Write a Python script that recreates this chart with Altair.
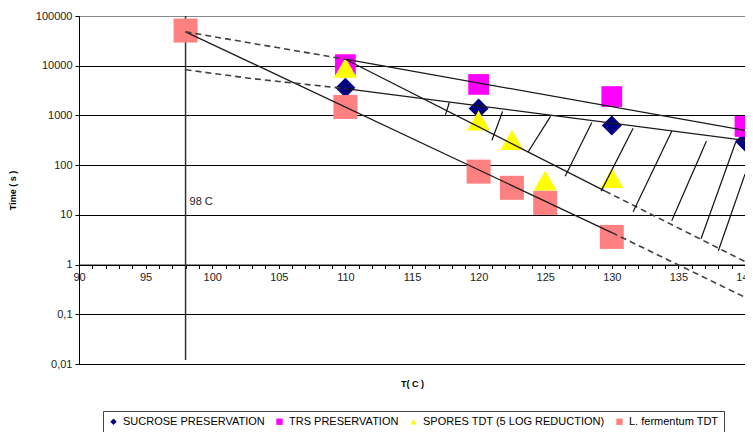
import altair as alt
import pandas as pd

# ---------------- data ----------------
series_names = ["SUCROSE PRESERVATION", "TRS PRESERVATION",
                "SPORES TDT (5 LOG REDUCTION)", "L. fermentum TDT"]
series_colors = ["#000080", "#FF00FF", "#FFFF00", "#FF8080"]
series_shapes = ["diamond", "square", "triangle-up", "square"]
series_sizes = [400, 430, 530, 576]

sucrose_T = [110, 120, 130, 140]
sucrose_t = [3600, 1380, 630, 300]
trs_T = [110, 120, 130, 140]
trs_t = [10500, 4200, 2400, 600]
spores_T = [110, 120, 122.5, 125, 130]
spores_t = [9100, 790, 320, 49, 55]
lferm_T = [98, 110, 120, 122.5, 125, 130]
lferm_t = [51000, 1480, 74, 35, 17.4, 3.6]

# fitted lines (segments)
line_ids = ["A1", "A2", "B1", "B2", "C1", "C2", "D1", "D2"]
line_styles = ["dashed", "solid", "dashed", "solid", "solid", "dashed", "solid", "dashed"]
line_T = [[98, 110], [110, 140], [98, 103, 110], [110, 140],
          [98, 130], [130, 140], [110, 129.5], [129.5, 140]]
line_t = [[48000, 13500], [13500, 500], [8300, 5500, 3470], [3470, 316],
          [48000, 4.4], [4.4, 0.22], [13500, 30], [30, 1.15]]

# hatch strokes between the lines
hatch_T1 = [117.5, 121.0, 123.7, 126.5, 129.2, 131.6, 134.5, 136.7, 138.0]
hatch_t1 = [1000, 316, 182, 60, 30, 11.5, 7.6, 3.3, 1.9]
hatch_T2 = [117.8, 121.8, 125.4, 128.5, 131.6, 134.5, 137.1, 139.3, 140.0]
hatch_t2 = [1820, 1200, 955, 724, 550, 479, 302, 288, 66]

# vertical reference line at 98 C
vline_T = [98]
vline_t_from = [0.012]
vline_t_to = [100000]

label_T = [98]
label_t = [18]
label_text = ["98 C"]

y_tick_values = [0.01, 0.1, 1, 10, 100, 1000, 10000, 100000]
x_tick_values = list(range(90, 141))

# ---------------- tables ----------------
pts = []
for name, T, t in [(series_names[0], sucrose_T, sucrose_t),
                   (series_names[1], trs_T, trs_t),
                   (series_names[2], spores_T, spores_t),
                   (series_names[3], lferm_T, lferm_t)]:
    for a, b in zip(T, t):
        pts.append({"series": name, "T": a, "t": b})
pts_df = pd.DataFrame(pts)

lines = []
for sid, st, Ts, ts in zip(line_ids, line_styles, line_T, line_t):
    for i, (a, b) in enumerate(zip(Ts, ts)):
        lines.append({"seg": sid, "style": st, "i": i, "T": a, "t": b})
lines_df = pd.DataFrame(lines)
solid_df = lines_df[lines_df["style"] == "solid"]
dashed_df = lines_df[lines_df["style"] == "dashed"]

hatch_df = pd.DataFrame({"T1": hatch_T1, "t1": hatch_t1, "T2": hatch_T2, "t2": hatch_t2})
vline_df = pd.DataFrame({"T": vline_T, "t0": vline_t_from, "t1": vline_t_to})
label_df = pd.DataFrame({"T": label_T, "t": label_t, "text": label_text})

# ---------------- layout ----------------
W = 666
H = 348
OFF = H * 2 / 7  # x axis drawn at t = 1

x_scale = alt.Scale(domain=[90, 140], nice=False, zero=False)
y_scale = alt.Scale(type="log", domain=[0.01, 100000], nice=False)

y_axis = alt.Axis(
    values=y_tick_values,
    labelExpr="datum.value >= 1 ? format(datum.value, 'd') : replace(format(datum.value, '.2~f'), '.', ',')",
    grid=True,
    gridColor={"condition": {"test": "datum.value >= 100000", "value": "#888888"}, "value": "black"},
    gridWidth=1,
    tickSize=4, tickColor="black", domainColor="black",
    labelFontSize=11, labelColor="#222222", labelPadding=3,
    title="Time ( s )", titleFontSize=9, titleFontWeight="bold",
    titleColor="black", titlePadding=18,
)

title_axis = alt.Axis(orient="bottom", title="T( C )", labels=False, ticks=False,
                      domain=False, grid=False, titleFontSize=9,
                      titleFontWeight="bold", titleColor="black", titlePadding=15)

tick_axis = alt.Axis(orient="bottom", offset=-OFF, values=x_tick_values,
                     labelExpr="datum.value % 5 === 0 ? datum.label : ''",
                     labelOverlap=False, labelFlush=False, grid=False,
                     tickSize=4, tickColor="black", domainColor="black",
                     labelFontSize=11, labelColor="#222222", labelPadding=3,
                     title=None)

legend = alt.Legend(title=None, orient="none", legendX=24, legendY=395,
                    direction="horizontal", strokeColor="#444444",
                    fillColor="white", padding=5, labelFontSize=11,
                    labelColor="black", labelLimit=400,
                    symbolSize=40, columnPadding=9, labelOffset=4,
                    symbolStrokeWidth=0)

color_enc = alt.Color("series:N",
                      scale=alt.Scale(domain=series_names, range=series_colors),
                      legend=legend)
shape_enc = alt.Shape("series:N",
                      scale=alt.Scale(domain=series_names, range=series_shapes),
                      legend=legend)

vrule = alt.Chart(vline_df).mark_rule(color="#333333", strokeWidth=1.5).encode(
    x=alt.X("T:Q", scale=x_scale, axis=title_axis),
    y=alt.Y("t0:Q", scale=y_scale, axis=y_axis),
    y2="t1:Q",
)

point_layers = []
for k, (name, sz) in enumerate(zip(series_names, series_sizes)):
    x_enc = alt.X("T:Q", scale=x_scale, axis=tick_axis if k == 0 else None)
    point_layers.append(
        alt.Chart(pts_df).transform_filter(
            alt.datum.series == name
        ).mark_point(filled=True, opacity=1, strokeWidth=0, size=sz).encode(
            x=x_enc,
            y=alt.Y("t:Q", scale=y_scale, axis=y_axis),
            color=color_enc,
            shape=shape_enc,
        )
    )

solid_lines = alt.Chart(solid_df).mark_line(color="#1a1a1a", strokeWidth=1.3).encode(
    x=alt.X("T:Q", scale=x_scale, axis=None),
    y=alt.Y("t:Q", scale=y_scale, axis=y_axis),
    detail="seg:N",
    order="i:Q",
)

dashed_lines = alt.Chart(dashed_df).mark_line(color="#404040", strokeWidth=1.6,
                                               strokeDash=[6, 4]).encode(
    x=alt.X("T:Q", scale=x_scale, axis=None),
    y=alt.Y("t:Q", scale=y_scale, axis=y_axis),
    detail="seg:N",
    order="i:Q",
)

hatches = alt.Chart(hatch_df).mark_rule(color="#111111", strokeWidth=1.2).encode(
    x=alt.X("T1:Q", scale=x_scale, axis=None),
    y=alt.Y("t1:Q", scale=y_scale, axis=y_axis),
    x2="T2:Q",
    y2="t2:Q",
)

label = alt.Chart(label_df).mark_text(align="left", dx=4, fontSize=11,
                                      color="#222222").encode(
    x=alt.X("T:Q", scale=x_scale, axis=None),
    y=alt.Y("t:Q", scale=y_scale, axis=y_axis),
    text="text:N",
)

chart = alt.layer(vrule, *point_layers, solid_lines, dashed_lines, hatches, label).resolve_axis(
    x="independent"
).properties(
    width=W, height=H,
    autosize=alt.AutoSizeParams(type="none"),
    padding={"left": 71, "top": 8, "right": 0, "bottom": 80},
).configure(
    font="Liberation Sans"
).configure_view(
    stroke="#808080", strokeWidth=1
)

chart.save("out.html", embed_options={"renderer": "svg", "actions": False})
